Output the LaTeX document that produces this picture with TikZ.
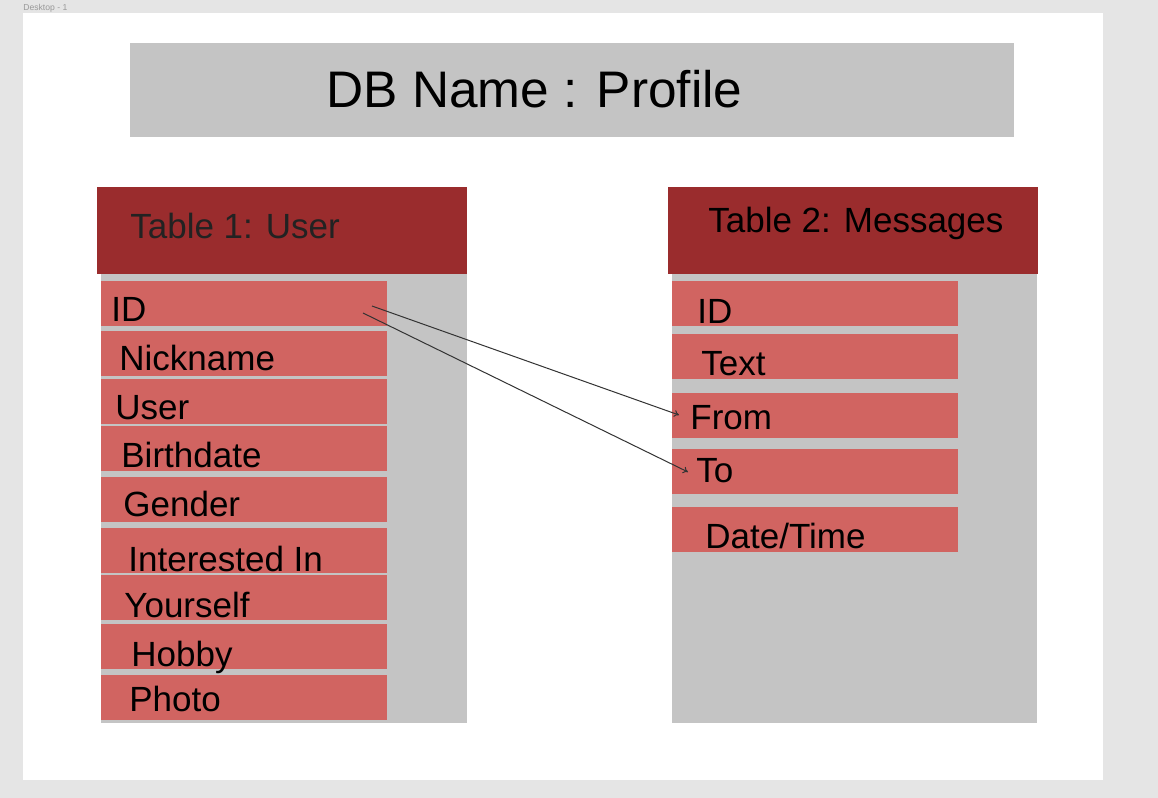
\documentclass[tikz,border=0pt]{standalone}
\usepackage{fontspec}
\setmainfont{Liberation Sans}
\usepackage{tikz}
\usetikzlibrary{arrows.meta,positioning}
\definecolor{canvasC}{HTML}{E5E5E5}
\definecolor{panelC}{HTML}{C4C4C4}
\definecolor{headC}{HTML}{9A2C2D}
\definecolor{rowC}{HTML}{D16461}
\definecolor{headTxtC}{HTML}{222222}

\begin{document}
\begin{tikzpicture}[x=0.5pt,y=-0.5pt,
  field/.style={fill=rowC,anchor=north west,inner sep=0pt,
                minimum width=143pt,minimum height=22.2pt},
  fieldtxt/.style={anchor=base west,inner sep=0pt,font=\fontsize{17.5}{21}\selectfont},
  headbox/.style={fill=headC,anchor=north west,inner sep=0pt,
                  minimum width=185pt,minimum height=43.5pt},
  headtxt/.style={anchor=base west,inner sep=0pt,font=\fontsize{17.5}{21}\selectfont},
  link/.style={black!80,line width=0.5pt,-{To[length=2.5pt,width=3.5pt]}}]
  \useasboundingbox (0,0) rectangle (1158,798);

  % Canvas and frame
  \fill[canvasC] (0,0) rectangle (1158,798);
  \node[anchor=base west,inner sep=0pt,text=black!40,
        font=\fontsize{4.3}{5}\selectfont] (frameName) at (23,10) {Desktop - 1};
  \fill[white] (23,13) rectangle (1103,780);

  % Title bar
  \node[fill=panelC,anchor=north west,inner sep=0pt,
        minimum width=442pt,minimum height=47pt] (title) at (130,43) {};
  \node[anchor=base west,inner sep=0pt,font=\fontsize{25.7}{30}\selectfont]
    (titleTxt) at (326,107) {DB Name : Profile};

  % Table 1: user
  \fill[panelC] (101,274) rectangle (467,723);
  \node[headbox] (userHead) at (97,187) {};
  \node[headtxt,text=headTxtC] (userHeadTxt) at (130,238) {Table 1: User};
  \foreach \name/\top/\tx/\base/\txt in {uid/281/111/321/ID,
      unick/331/119/370/Nickname, uuser/379/115/419/User,
      ubirth/426/121/467/Birthdate, ugender/477/123/516/Gender,
      uint/528/128/571/Interested In, uself/575/124/617/Yourself,
      uhobby/624/131/666/Hobby, uphoto/675/129/711/Photo}{
    \node[field] (\name) at (101,\top) {};
    \node[fieldtxt] (\name-t) at (\tx,\base) {\txt};
  }

  % Table 2: messages
  \fill[panelC] (672,274) rectangle (1037,723);
  \node[headbox] (msgHead) at (668,187) {};
  \node[headtxt] (msgHeadTxt) at (708,232) {Table 2: Messages};
  \foreach \name/\top/\tx/\base/\txt in {mid/281/697/323/ID,
      mtext/334/701/375/Text, mfrom/393/690/429/From,
      mto/449/696/482/To, mdate/507/705/548/{Date/Time}}{
    \node[field] (\name) at (672,\top) {};
    \node[fieldtxt] (\name-t) at (\tx,\base) {\txt};
  }

  % ID links
  \coordinate (idOutA) at (372,306);
  \coordinate (idOutB) at (363,313);
  \coordinate (fromIn) at (679,415);
  \coordinate (toIn) at (688,472);
  \draw[link] (idOutA) -- (fromIn);
  \draw[link] (idOutB) -- (toIn);
\end{tikzpicture}
\end{document}
